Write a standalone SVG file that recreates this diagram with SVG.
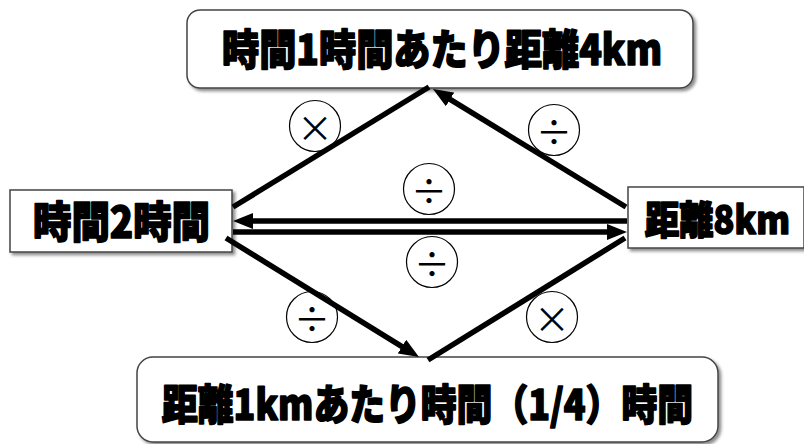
<svg xmlns="http://www.w3.org/2000/svg" width="804" height="444" viewBox="0 0 804 444">
<style>
.box{fill:#fff;stroke:#444;stroke-width:1.5;filter:url(#sh)}
.lbl{font-family:"Noto Sans CJK JP","Noto Sans CJK SC",sans-serif;font-weight:900;fill:#000;stroke:#000;stroke-width:1.6;stroke-linejoin:round}
.op{fill:#fff;stroke:#000;stroke-width:1.2}
.sym{font-family:"Noto Sans CJK JP","DejaVu Sans",sans-serif;font-size:36px;fill:#000;text-anchor:middle;dominant-baseline:central}
.ln{stroke:#000;stroke-width:5.5;fill:none}
</style>
<defs>
<filter id="sh" x="-10%" y="-20%" width="120%" height="150%">
<feDropShadow dx="2.5" dy="2.5" stdDeviation="1.8" flood-color="#000" flood-opacity="0.45"/>
</filter>
<marker id="ah" markerUnits="userSpaceOnUse" markerWidth="20" markerHeight="16" refX="10" refY="8" orient="auto">
<path d="M0,0 L20,8 L0,16 z" fill="#000"/>
</marker>
</defs>
<g id="node-top">
<rect class="box" x="187" y="10" width="506" height="78" rx="13"/>
<text class="lbl" x="222" y="65" font-size="42" textLength="440" lengthAdjust="spacingAndGlyphs">時間1時間あたり距離4km</text>
</g>
<g id="node-left">
<rect class="box" x="10" y="190" width="222" height="62"/>
<text class="lbl" x="33" y="238" font-size="43" textLength="177" lengthAdjust="spacingAndGlyphs">時間2時間</text>
</g>
<g id="node-right">
<rect class="box" x="628" y="187" width="176" height="61"/>
<text class="lbl" x="645" y="234" font-size="39" textLength="145" lengthAdjust="spacingAndGlyphs">距離8km</text>
</g>
<g id="node-bottom">
<rect class="box" x="137" y="357" width="581" height="85" rx="16"/>
<text class="lbl" x="162" y="420" font-size="42" textLength="531" lengthAdjust="spacingAndGlyphs">距離1kmあたり時間（1/4）時間</text>
</g>
<g id="operators">
<circle class="op" cx="315" cy="126" r="25.5"/><text class="sym" x="315" y="126">×</text>
<circle class="op" cx="554" cy="130" r="25.5"/><text class="sym" x="554" y="130">÷</text>
<circle class="op" cx="429" cy="189" r="25.5"/><text class="sym" x="429" y="189">÷</text>
<circle class="op" cx="432" cy="262" r="25.5"/><text class="sym" x="432" y="262">÷</text>
<circle class="op" cx="312" cy="317" r="25.5"/><text class="sym" x="312" y="317">÷</text>
<circle class="op" cx="552" cy="317" r="25.5"/><text class="sym" x="552" y="317">×</text>
</g>
<g id="connectors">
<line class="ln" x1="233" y1="207" x2="429" y2="87"/>
<line class="ln" x1="626" y1="207" x2="441.5" y2="94.2" marker-end="url(#ah)"/>
<line class="ln" x1="627" y1="221" x2="243" y2="221" marker-end="url(#ah)"/>
<line class="ln" x1="233" y1="232" x2="617" y2="232" marker-end="url(#ah)"/>
<line class="ln" x1="226" y1="238" x2="410.5" y2="351.8" marker-end="url(#ah)"/>
<line class="ln" x1="625" y1="238" x2="428" y2="360"/>
</g>
</svg>
